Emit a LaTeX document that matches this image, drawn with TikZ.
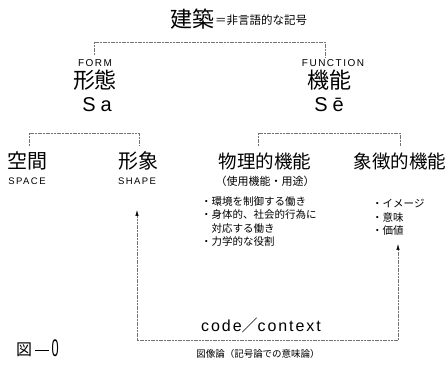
\documentclass[tikz,border=0pt]{standalone}
\usepackage{fontspec}
\setmainfont{Liberation Sans}
\newfontfamily\cjk{Noto Sans CJK JP}
\newfontfamily\latsp[LetterSpace=25]{Liberation Sans}
\newfontfamily\latsm[LetterSpace=15]{Liberation Sans}
\newfontfamily\latcode[LetterSpace=12]{Liberation Sans}
\usetikzlibrary{arrows.meta}
\tikzset{
  jp/.style={inner sep=0pt, font=\cjk\fontsize{#1}{#1}\selectfont},
  jplist/.style={inner sep=0pt, anchor=north west, align=left, font=\cjk\fontsize{10.5}{13.5}\selectfont},
  capt/.style={inner sep=0pt, font=\latsm\fontsize{#1}{#1}\selectfont},
  sym/.style={inner sep=0pt, font=\latsp\fontsize{20}{20}\selectfont},
  link/.style={draw=black!55, line width=0.5pt, dash pattern=on 2pt off 0.7pt},
  arr/.style={link, -{Latex[length=6pt,width=3.4pt,black]}},
}
\begin{document}
\begin{tikzpicture}[x=1pt,y=-1pt]
\useasboundingbox (0,0) rectangle (448,366);
% title
\node[jp=22] (arch) at (192,19) {建築};
\node[jp=11.5, anchor=west] (archsub) at (215,20) {＝非言語的な記号};
% level 1
\node[capt=10] (form) at (95,63) {FORM};
\node[jp=22] (keitai) at (95,80) {形態};
\node[sym] (sa) at (97,105) {Sa};
\node[capt=10] (function) at (333,63) {FUNCTION};
\node[jp=22] (kino) at (329,80) {機能};
\node[sym] (se) at (329,105) {Sē};
% level 2
\node[jp=20] (kukan) at (28,161) {空間};
\node[capt=9.5] (space) at (27,181) {SPACE};
\node[jp=20] (keisho) at (138,161) {形象};
\node[capt=9.5] (shape) at (137,181) {SHAPE};
\node[jp=18.5] (butsuri) at (265,161) {物理的機能};
\node[jp=11] (shiyo) at (265,181) {（使用機能・用途）};
\node[jp=18.5] (shocho) at (400,161) {象徴的機能};
\node[jplist] (blist) at (201,196) {・環境を制御する働き\\・身体的、社会的行為に\\\hspace{1em}対応する働き\\・力学的な役割};
\node[jplist] (slist) at (372,199) {・イメージ\\・意味\\・価値};
% bottom
\node[inner sep=0pt, font=\latcode\fontsize{16}{16}\selectfont] (code) at (261,325) {code{\cjk ／}context};
\node[jp=9.5] (zuzo) at (258,354) {図像論（記号論での意味論）};
\node[inner sep=0pt, anchor=west, font=\cjk\fontsize{16}{16}\selectfont] (fig) at (16,348) {図\,\rule[0.33em]{14pt}{0.5pt}\,\raisebox{-0.05em}{\scalebox{0.8}[1.5]{\fontspec{Liberation Sans}0}}};
% brackets
\coordinate (tl) at (94,55);
\coordinate (tr) at (325,58);
\draw[link] (tl) -- ++(0,-13) -| (tr);
\coordinate (ll) at (29,146);
\coordinate (lr) at (139,146);
\draw[link] (ll) -- ++(0,-13) -| (lr);
\coordinate (rl) at (258,146);
\coordinate (rr) at (400,146);
\draw[link] (rl) -- ++(0,-13) -| (rr);
% loop
\coordinate (cl) at (137,340);
\coordinate (cr) at (398,340);
\coordinate (shapetip) at (137,210);
\coordinate (symtip) at (398,244);
\draw[link] (cl) -- (cr);
\draw[arr] (cl) -- (shapetip);
\draw[arr] (cr) -- (symtip);
\end{tikzpicture}
\end{document}
